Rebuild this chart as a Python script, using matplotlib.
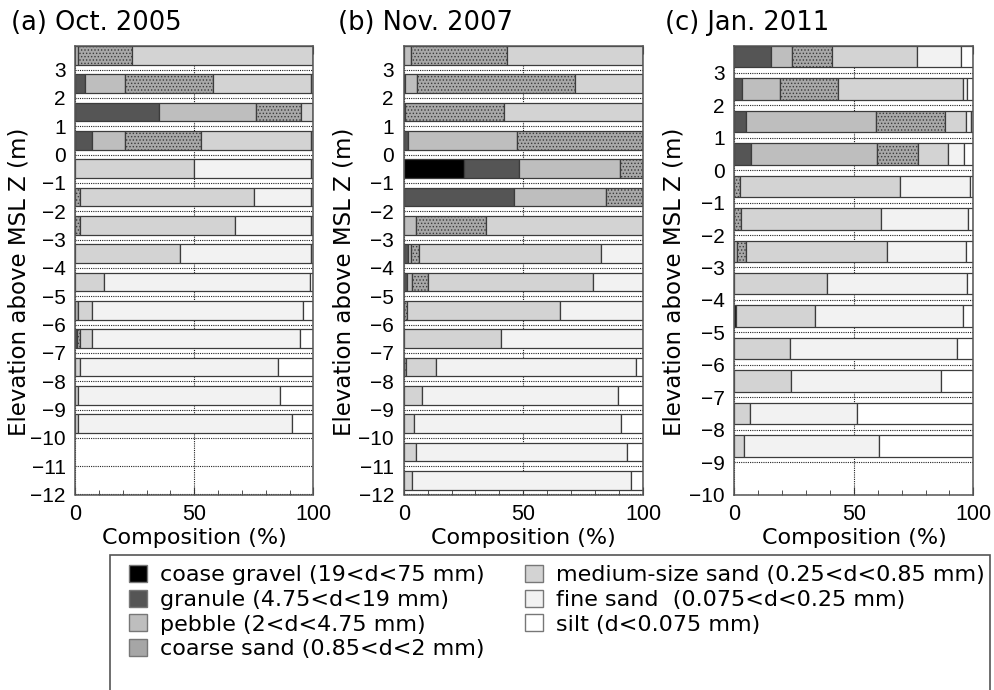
import matplotlib
matplotlib.use('Agg')
import matplotlib.pyplot as plt
from matplotlib.patches import Patch, Rectangle

plt.rcParams['font.family'] = ['DejaVu Sans']
plt.rcParams['hatch.linewidth'] = 0.6

# grain size classes, coarse to fine
classes = ['coase gravel (19<d<75 mm)', 'granule (4.75<d<19 mm)', 'pebble (2<d<4.75 mm)',
           'coarse sand (0.85<d<2 mm)', 'medium-size sand (0.25<d<0.85 mm)',
           'fine sand  (0.075<d<0.25 mm)', 'silt (d<0.075 mm)']
colors = ['#000000', '#555555', '#bebebe', '#a8a8a8', '#d3d3d3', '#f2f2f2', '#ffffff']
legend_colors = ['#000000', '#555555', '#bebebe', '#a6a6a6', '#d3d3d3', '#f2f2f2', '#ffffff']
hatches = [None, None, None, '.....', None, None, None]

# composition (%) per elevation, columns follow `classes`
elev_2005 = [3, 2, 1, 0, -1, -2, -3, -4, -5, -6, -7, -8, -9, -10]
comp_2005 = [
    [0, 0, 1, 23, 76, 0, 0],
    [0, 4, 17, 37, 41, 1, 0],
    [0, 35, 41, 19, 5, 0, 0],
    [0, 7, 14, 32, 46, 1, 0],
    [0, 0, 0, 0, 50, 49, 1],
    [0, 0, 0, 2, 73, 24, 1],
    [0, 0, 0, 2, 65, 32, 1],
    [0, 0, 0, 0, 44, 55, 1],
    [0, 0, 0, 0, 12, 86.5, 1.5],
    [0, 0, 1, 0, 6, 88.5, 4.5],
    [0, 0.8, 0, 1.2, 5, 87.5, 5.5],
    [0, 0, 0, 0, 2, 83, 15],
    [0, 0, 0, 0, 1, 85, 14],
    [0, 0, 0, 0, 1, 90, 9],
]

elev_2007 = [3, 2, 1, 0, -1, -2, -3, -4, -5, -6, -7, -8, -9, -10, -11, -12]
comp_2007 = [
    [0, 0, 3, 40, 57, 0, 0],
    [0, 0.5, 5, 66, 28.5, 0, 0],
    [0, 0, 0.5, 41.5, 58, 0, 0],
    [0, 2, 45.5, 52.5, 0, 0, 0],
    [25.3, 23, 42.2, 9.5, 0, 0, 0],
    [0, 46, 38.5, 15.5, 0, 0, 0],
    [0, 0, 5, 29.5, 65.5, 0, 0],
    [0, 2, 1, 3.5, 76, 17.5, 0],
    [0, 1.5, 2, 6.5, 69, 21, 0],
    [0, 0, 0, 1.5, 64, 34.5, 0],
    [0, 0, 0, 0, 40.5, 59.5, 0],
    [0, 0, 0, 1, 12.5, 83.5, 3],
    [0, 0, 0, 0, 7.5, 82, 10.5],
    [0, 0, 0, 0, 4.5, 86.5, 9],
    [0, 0, 0, 0, 5, 88.5, 6.5],
    [0, 0, 0, 0, 3.5, 91.5, 5],
]

elev_2011 = [3, 2, 1, 0, -1, -2, -3, -4, -5, -6, -7, -8, -9]
comp_2011 = [
    [0, 15.3, 8.9, 16.8, 35.6, 18.4, 5],
    [0, 3.2, 15.7, 24.5, 52.1, 2, 2.5],
    [0, 4.8, 54.4, 28.9, 8.8, 2, 1.1],
    [0, 6.9, 52.9, 17.2, 12.4, 6.7, 3.9],
    [0, 0, 0, 2.1, 67.4, 29, 1.5],
    [0, 0, 0, 2.7, 58.8, 36.3, 2.2],
    [0, 0, 1, 3.8, 58.9, 33.2, 3.1],
    [0, 0, 0, 0, 38.8, 58.7, 2.5],
    [0.7, 0, 0, 0, 33.2, 61.8, 4.3],
    [0, 0, 0, 0, 23.4, 69.6, 7],
    [0, 0, 0, 0, 23.8, 62.6, 13.6],
    [0, 0, 0, 0, 6.4, 45, 48.6],
    [0, 0, 0, 0, 3.8, 56.8, 39.4],
]

titles = ['(a) Oct. 2005', '(b) Nov. 2007', '(c) Jan. 2011']
y_bottoms = [-12, -12, -10]

W, H = 995, 690
fig = plt.figure(figsize=(W / 100, H / 100), dpi=100)

# axes boxes in pixels: left, right; title x; right edge of the y label
boxes = [(75.3, 313.3, 11, 31), (403.7, 643.0, 338, 356), (734.5, 973.3, 665, 686)]
top_px, bot_px = 46, 494.5
tick_font = 'Liberation Sans'

panels = [(elev_2005, comp_2005), (elev_2007, comp_2007), (elev_2011, comp_2011)]

for k, (elev, comp) in enumerate(panels):
    x0, x1, tx, lx = boxes[k]
    ax = fig.add_axes([x0 / W, 1 - bot_px / H, (x1 - x0) / W, (bot_px - top_px) / H])
    centers = [e + 0.5 for e in elev]
    left = [0.0] * len(elev)
    for j in range(len(classes)):
        widths = [row[j] for row in comp]
        ax.barh(centers, widths, left=left, height=0.66, color=colors[j],
                edgecolor='#3c3c3c', linewidth=0.9, hatch=hatches[j], zorder=2)
        left = [a + b for a, b in zip(left, widths)]

    ax.set_xlim(0, 100)
    ax.set_ylim(y_bottoms[k], 3.83)
    ax.set_yticks(range(y_bottoms[k], 4))
    ax.set_yticklabels([str(v).replace('-', '\u2212') for v in range(y_bottoms[k], 4)],
                       fontsize=15, family=tick_font)
    ax.set_xticks([0, 50, 100])
    ax.set_xticklabels(['0', '50', '100'], fontsize=15.5, family=tick_font)
    ax.set_xticks(range(0, 101, 10), minor=True)
    ax.tick_params(axis='x', which='both', direction='in', top=True, bottom=True,
                   color='#333333')
    ax.tick_params(axis='x', which='major', length=6, pad=7)
    ax.tick_params(axis='x', which='minor', length=3.5)
    ax.tick_params(axis='y', length=0, pad=7)
    ax.grid(True, which='major', color='#222222', linestyle=(0, (1, 1)), linewidth=0.8)
    ax.set_axisbelow(True)
    for sp in ax.spines.values():
        sp.set_color('#555555')
        sp.set_linewidth(1.1)

    ax.set_xlabel('Composition (%)', fontsize=16, labelpad=2)
    ax.set_ylabel('Elevation above MSL Z (m)', fontsize=16.5)
    ax.yaxis.set_label_coords((lx - x0) / (x1 - x0), 0.475)
    fig.text(tx / W, 1 - 30 / H, titles[k], fontsize=18.5, va='baseline', ha='left')

# legend frame runs off the bottom edge of the figure
fig.add_artist(Rectangle((110 / W, -0.01), 880 / W, 1 - 555 / H + 0.01,
                         transform=fig.transFigure, facecolor='white',
                         edgecolor='#555555', linewidth=1.2, zorder=0))

handles = [Patch(facecolor=c, edgecolor='#777777', linewidth=1) for c in legend_colors]
fig.legend(handles, classes, loc='upper left', ncol=2, fontsize=16,
           bbox_to_anchor=(129 / W, 1 - 565 / H), frameon=False,
           handlelength=0.8, handleheight=0.8, handletextpad=0.6,
           labelspacing=0.2, columnspacing=1.8, borderpad=0, borderaxespad=0)

fig.savefig('out.png', dpi=100)
